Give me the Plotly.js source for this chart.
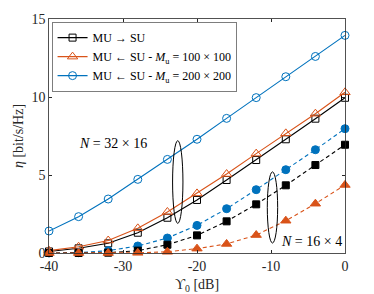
<!DOCTYPE html>
<html><head><meta charset="utf-8">
<script src="https://cdn.plot.ly/plotly-3.0.1.min.js"></script>
<style>html,body{margin:0;padding:0;background:#fff}</style>
</head><body><div id="g" style="width:374px;height:294px"></div>
<script>
const snrDb = [-40,-36,-32,-28,-24,-20,-16,-12,-8,-4,0];
// N = 32 x 16 (solid)
const muToSu_32x16   = [0.10,0.30,0.62,1.30,2.26,3.40,4.68,5.96,7.29,8.61,9.95];
const suToMu100_32x16 = [0.15,0.40,0.80,1.58,2.63,3.82,5.06,6.37,7.67,8.93,10.3];
const suToMu200_32x16 = [1.41,2.33,3.46,4.72,6.00,7.29,8.63,9.96,11.3,12.6,13.95];
// N = 16 x 4 (dashed)
const muToSu_16x4    = [0.00,0.00,0.02,0.15,0.53,1.13,2.03,3.12,4.34,5.64,6.94];
const suToMu100_16x4 = [0.00,0.00,0.00,0.01,0.08,0.28,0.58,1.15,2.07,3.16,4.36];
const suToMu200_16x4 = [0.00,0.02,0.15,0.45,0.96,1.77,2.84,4.06,5.34,6.62,7.97];
const legendNames = ["MU → SU", "MU ← SU - <i>M</i><sub>u</sub> = 100 × 100", "MU ← SU - <i>M</i><sub>u</sub> = 200 × 200"];
const xTicks = [-40,-30,-20,-10,0];
const yTicks = [0,5,10,15];

const BLUE = "#0072BD", ORANGE = "#D95319", BLACK = "#000000";
function tr(y, name, color, symbol, size, dash, show){
  return {x: snrDb, y: y, name: name, type: "scatter", mode: "lines+markers",
    line: {color: color, width: 1.1, dash: dash},
    marker: {symbol: symbol, size: size, color: color, line: {color: color, width: 1}},
    showlegend: show, cliponaxis: false};
}
const data = [
  tr(muToSu_32x16, legendNames[0], BLACK, "square-open", 7, "solid", true),
  tr(suToMu100_32x16, legendNames[1], ORANGE, "triangle-up-open", 9, "solid", true),
  tr(suToMu200_32x16, legendNames[2], BLUE, "circle-open", 8, "solid", true),
  tr(suToMu200_16x4, "", BLUE, "circle", 8, "4px,3px", false),
  tr(muToSu_16x4, "", BLACK, "square", 7, "4px,3px", false),
  tr(suToMu100_16x4, "", ORANGE, "triangle-up", 9, "4px,3px", false)
];
const F = "'Liberation Serif', 'DejaVu Serif', serif";
const layout = {
  width: 374, height: 294,
  margin: {l: 49, r: 29, t: 19, b: 41},
  paper_bgcolor: "#fff", plot_bgcolor: "#fff",
  font: {family: F, size: 14, color: "#262626"},
  xaxis: {range: [-40, 0], tickvals: xTicks, ticktext: xTicks.map(String),
    ticks: "inside", ticklen: 3, tickcolor: "#262626", showline: true, linecolor: "#262626", linewidth: 0.8,
    mirror: "ticks", showgrid: false, zeroline: false, tickfont: {size: 14, family: F},
    title: {text: "ϒ<sub>0</sub> [dB]", standoff: 6, font: {size: 14, family: F}}},
  yaxis: {range: [0, 15], tickvals: yTicks, ticktext: yTicks.map(String),
    ticks: "inside", ticklen: 3, tickcolor: "#262626", showline: true, linecolor: "#262626", linewidth: 0.8,
    mirror: "ticks", showgrid: false, zeroline: false, tickfont: {size: 14, family: F},
    title: {text: "<i>η</i> [bit/s/Hz]", standoff: 4, font: {size: 14, family: F}}},
  legend: {x: 0.01, y: 0.985, xanchor: "left", yanchor: "top", bgcolor: "#fff",
    bordercolor: "#262626", borderwidth: 0.6, font: {size: 12, family: F, color: "#000"},
    tracegroupgap: 0, itemwidth: 30},
  shapes: [
    {type: "circle", xref: "x", yref: "y", x0: -23.3, x1: -21.9, y0: 1.9, y1: 7.2, line: {color: "#000", width: 1}},
    {type: "circle", xref: "x", yref: "y", x0: -10.5, x1: -9.1, y0: 0.64, y1: 5.2, line: {color: "#000", width: 1}}
  ],
  annotations: [
    {x: -31.3, y: 7.05, xref: "x", yref: "y", text: "<i>N</i> = 32 × 16", showarrow: false, font: {size: 14, family: F, color: "#000"}},
    {x: -4.5, y: 0.72, xref: "x", yref: "y", text: "<i>N</i> = 16 × 4", showarrow: false, font: {size: 14, family: F, color: "#000"}}
  ]
};
Plotly.newPlot("g", data, layout, {displayModeBar: false, staticPlot: true});
</script></body></html>
